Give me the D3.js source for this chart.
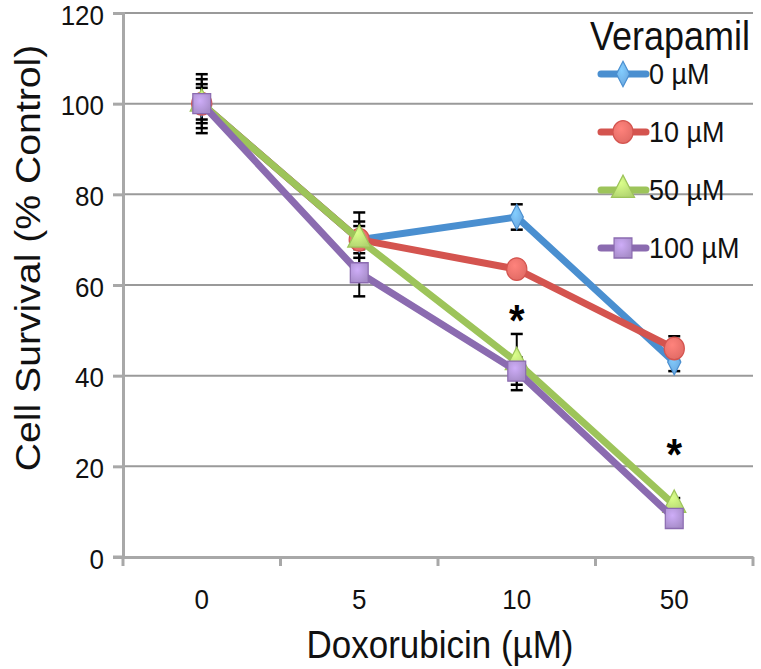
<!DOCTYPE html>
<html><head><meta charset="utf-8">
<script src="https://cdn.jsdelivr.net/npm/d3@7"></script>
<style>body{margin:0;background:#fff}svg{display:block}text{font-family:"Liberation Sans",Arial,sans-serif}</style>
</head><body><svg id="c" width="761" height="669"></svg>
<script>
const categories = ["0","5","10","50"];
const seriesNames = ["0 µM","10 µM","50 µM","100 µM"];
const v0   = [100, 70, 75, 43];
const v10  = [100, 70, 63.5, 46];
const v50  = [100, 70, 43, 11.5];
const v100 = [100, 62.7, 41, 8.5];
const e0   = [6.5, 3, 2.8, 2];
const e10  = [5.4, 4, 1.5, 2.7];
const e50  = [4.3, 6, 6.2, 1.5];
const e100 = [3.5, 5.2, 3, 1.5];
const yTicks = [0,20,40,60,80,100,120];
const stars = [{cat:"10", y:48.8}, {cat:"50", y:19.3}];

(function(){
const colors = ["#4a8fd0","#d4544f","#9dc45a","#8b6bb0"];
const fills  = ["#6aa6de","#e06a64","#b1d470","#a68cc8"];
const shapes = [d3.symbolDiamond, d3.symbolCircle, d3.symbolTriangle, d3.symbolSquare];
const sizes  = [150, 320, 230, 320];
const series = [v0,v10,v50,v100].map((v,i)=>({name:seriesNames[i], values:v, err:[e0,e10,e50,e100][i], i}));
const SY = 1.12;

const svg = d3.select("#c");
const defs = svg.append("defs");
colors.forEach((c,i)=>{
  const g = defs.append("radialGradient").attr("id","g"+i).attr("cx","40%").attr("cy","35%").attr("r","70%");
  g.append("stop").attr("offset","0%").attr("stop-color",d3.color(fills[i]).brighter(0.6));
  g.append("stop").attr("offset","100%").attr("stop-color",fills[i]);
});
const L=123, R=753, T=13, B=557;
const x = d3.scaleBand().domain(categories).range([L,R]);
const y = d3.scaleLinear().domain([0,120]).range([B,T]);
const cx = c => x(c)+x.bandwidth()/2;

function htext(g, X, Y, str, size, anchor, sy){
  return g.append("text").attr("transform",`translate(${X},${Y}) scale(1,${sy||SY})`)
    .attr("text-anchor",anchor||"start").attr("font-size",size).attr("fill","#111").text(str);
}

// gridlines
svg.append("g").selectAll("line").data(yTicks.filter(t=>t>0)).join("line")
  .attr("x1",L).attr("x2",R).attr("y1",d=>y(d)).attr("y2",d=>y(d))
  .attr("stroke","#9a9a9a").attr("stroke-width",2);

// y axis
const ya = svg.append("g").attr("transform",`translate(${L},0)`)
  .call(d3.axisLeft(y).tickValues(yTicks).tickSize(10).tickFormat(""));
ya.select(".domain").attr("stroke","#a8a8a8").attr("stroke-width",3);
ya.selectAll(".tick line").attr("stroke","#a8a8a8").attr("stroke-width",3);
const ylab = svg.append("g");
yTicks.forEach(t=>htext(ylab, 104, y(t)+11.5, String(t), 26, "end", 1.05));

// x axis
const xa = svg.append("g").attr("transform",`translate(0,${B})`)
  .call(d3.axisBottom(x).tickSize(0).tickFormat(""));
xa.select(".domain").attr("stroke","#a8a8a8").attr("stroke-width",3);
xa.selectAll(".tick line").remove();
const xlab = svg.append("g");
categories.forEach(c=>htext(xlab, cx(c), 609, c, 26, "middle", 1.06));
const bounds = categories.map(c=>x(c)).concat([R]);
svg.append("g").selectAll("line").data(bounds).join("line")
  .attr("x1",d=>d).attr("x2",d=>d).attr("y1",B).attr("y2",B+9)
  .attr("stroke","#a8a8a8").attr("stroke-width",3);
svg.append("line").attr("x1",113).attr("x2",L).attr("y1",B).attr("y2",B)
  .attr("stroke","#a8a8a8").attr("stroke-width",3);

// error bars
const eg = svg.append("g");
series.forEach(s=>{
  s.values.forEach((v,k)=>{
    const X = cx(categories[k]);
    const y1 = y(v+s.err[k]), y2 = y(v-s.err[k]);
    eg.append("line").attr("x1",X).attr("x2",X).attr("y1",y1).attr("y2",y2).attr("stroke","#000").attr("stroke-width",2);
    [y1,y2].forEach(yy=>eg.append("line").attr("x1",X-6).attr("x2",X+6).attr("y1",yy).attr("y2",yy).attr("stroke","#000").attr("stroke-width",2.5));
  });
});

// lines and markers
const line = d3.line().x((d,k)=>cx(categories[k])).y(d=>y(d));
series.forEach(s=>{
  const g = svg.append("g");
  g.append("path").datum(s.values).attr("d",line).attr("fill","none")
    .attr("stroke",colors[s.i]).attr("stroke-width",7).attr("stroke-linejoin","round");
  g.selectAll("path.m").data(s.values).join("path").attr("class","m")
    .attr("transform",(d,k)=>`translate(${cx(categories[k])},${y(d)}) scale(1,${SY})`)
    .attr("d",d3.symbol().type(shapes[s.i]).size(sizes[s.i]))
    .attr("fill",`url(#g${s.i})`).attr("stroke",colors[s.i]).attr("stroke-width",1.2);
});

// asterisks
const sg = svg.append("g");
stars.forEach(d=>htext(sg, cx(d.cat), y(d.y), "*", 40, "middle").attr("font-weight","bold").attr("fill","#000"));

// legend
const lg = svg.append("g");
htext(lg, 750, 50, "Verapamil", 36, "end");
series.forEach(s=>{
  const yy = 74 + s.i*58;
  lg.append("line").attr("x1",601).attr("x2",646).attr("y1",yy).attr("y2",yy)
    .attr("stroke",colors[s.i]).attr("stroke-width",7).attr("stroke-linecap","round");
  lg.append("path").attr("transform",`translate(623,${yy}) scale(1,${SY})`)
    .attr("d",d3.symbol().type(shapes[s.i]).size(sizes[s.i]))
    .attr("fill",`url(#g${s.i})`).attr("stroke",colors[s.i]).attr("stroke-width",1.2);
  htext(lg, 649, yy+10, s.name, 27, "start");
});

// axis titles
htext(svg, 440, 658, "Doxorubicin (µM)", 35, "middle");
svg.append("text").attr("transform","translate(40,258) rotate(-90) scale(1.12,1)").attr("text-anchor","middle")
  .attr("font-size",35).attr("fill","#111").text("Cell Survival (% Control)");
})();
</script></body></html>
